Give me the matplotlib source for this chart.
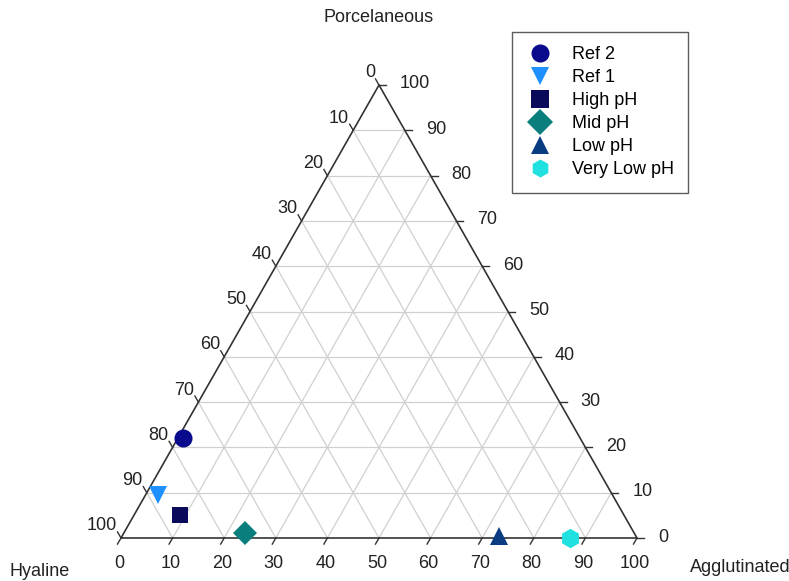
import numpy as np
import matplotlib
matplotlib.use("Agg")
import matplotlib.pyplot as plt

plt.rcParams['font.family'] = ['Liberation Sans', 'DejaVu Sans']

# Composition (%) of each assemblage
samples = ["Ref 2", "Ref 1", "High pH", "Mid pH", "Low pH", "Very Low pH"]
hyaline = [77.0, 88.0, 86.0, 75.5, 26.5, 13.0]
agglutinated = [1.0, 2.5, 9.0, 23.5, 73.0, 87.0]
porcelaneous = [22.0, 9.5, 5.0, 1.0, 0.5, 0.0]

markers = ["o", "v", "s", "D", "^", "h"]
colors = ["#0a0a8c", "#1e90ff", "#0a0a5a", "#0a7d7d", "#0a3c82", "#20e0e0"]
sizes = [13, 13, 12, 12, 13, 14]

tick_values = list(range(0, 101, 10))

W, H = 789, 581
h3 = np.sqrt(3) / 2
SX = 516.0            # pixels per unit horizontally
SY = 453.0 / h3       # pixels per unit vertically
fig = plt.figure(figsize=(W / 100, H / 100), dpi=100)
ax = fig.add_axes([0, 0, 1, 1])
ax.set_xlim(-121 / SX, (W - 121) / SX)
ax.set_ylim(-(H - 538) / SY, 538 / SY)
ax.axis("off")

px = 1 / SX  # one pixel horizontally, data units
py = 1 / SY  # one pixel vertically, data units


def tern(a, p):
    """Agglutinated / Porcelaneous fractions (0-1) to cartesian."""
    return a + p / 2, p * h3


# grid lines
gcol = "#d0d0d0"
for v in tick_values[1:-1]:
    f = v / 100
    x0, y0 = tern(0, f); x1, y1 = tern(1 - f, f)
    ax.plot([x0, x1], [y0, y1], color=gcol, lw=0.9, zorder=1)
    x0, y0 = tern(f, 0); x1, y1 = tern(f, 1 - f)
    ax.plot([x0, x1], [y0, y1], color=gcol, lw=0.9, zorder=1)
    x0, y0 = tern(1 - f, 0); x1, y1 = tern(0, 1 - f)
    ax.plot([x0, x1], [y0, y1], color=gcol, lw=0.9, zorder=1)

# triangle outline
tri = np.array([tern(0, 0), tern(1, 0), tern(0, 1), tern(0, 0)])
ax.plot(tri[:, 0], tri[:, 1], color="#333333", lw=1.2, zorder=2)

tl = 7
fs = 13
tc = "#222222"
for v in tick_values:
    f = v / 100
    # bottom axis: Agglutinated
    x, y = tern(f, 0)
    ax.plot([x, x - tl * 0.5 * px], [y, y - tl * h3 * py], color="#333333", lw=1.0, clip_on=False)
    ax.text(x - 2 * px, y - 25 * py, str(v), ha="center", va="center", fontsize=fs, color=tc)
    # right axis: Porcelaneous
    x, y = tern(1 - f, f)
    ax.plot([x, x + tl * px], [y, y], color="#333333", lw=1.0, clip_on=False)
    ax.text(x + 21 * px, y + 1 * py, str(v), ha="left", va="center", fontsize=fs, color=tc)
    # left axis: Hyaline
    x, y = tern(0, 1 - f)
    ax.plot([x, x - tl * 0.5 * px], [y, y + tl * h3 * py], color="#333333", lw=1.0, clip_on=False)
    ax.text(x - 4 * px, y + 12 * py, str(v), ha="right", va="center", fontsize=fs, color=tc)

# axis titles
ax.text((379 - 121) * px, (538 - 18) * py, "Porcelaneous", ha="center", va="center", fontsize=fs, color=tc)
ax.text((40 - 121) * px, (538 - 571) * py, "Hyaline", ha="center", va="center", fontsize=fs, color=tc)
ax.text((740 - 121) * px, (538 - 567) * py, "Agglutinated", ha="center", va="center", fontsize=fs, color=tc)

# data points
handles = []
for name, hy, ag, po, m, c, ms in zip(samples, hyaline, agglutinated, porcelaneous, markers, colors, sizes):
    tot = hy + ag + po
    x, y = tern(ag / tot, po / tot)
    hnd, = ax.plot([x], [y], marker=m, color=c, markersize=ms, linestyle="none",
                   markeredgewidth=0, zorder=5, clip_on=False, label=name)
    handles.append(hnd)

leg = ax.legend(handles=handles, loc="upper left",
                bbox_to_anchor=(512 / W, 1 - 32 / H), fontsize=fs,
                frameon=True, fancybox=False, edgecolor="#333333",
                borderpad=0.8, labelspacing=0.33, handletextpad=1.0,
                handlelength=1.5, borderaxespad=0)
leg.get_frame().set_linewidth(1.0)
for h in leg.legend_handles:
    h.set_markersize(13)

fig.savefig("out.png", dpi=100)
